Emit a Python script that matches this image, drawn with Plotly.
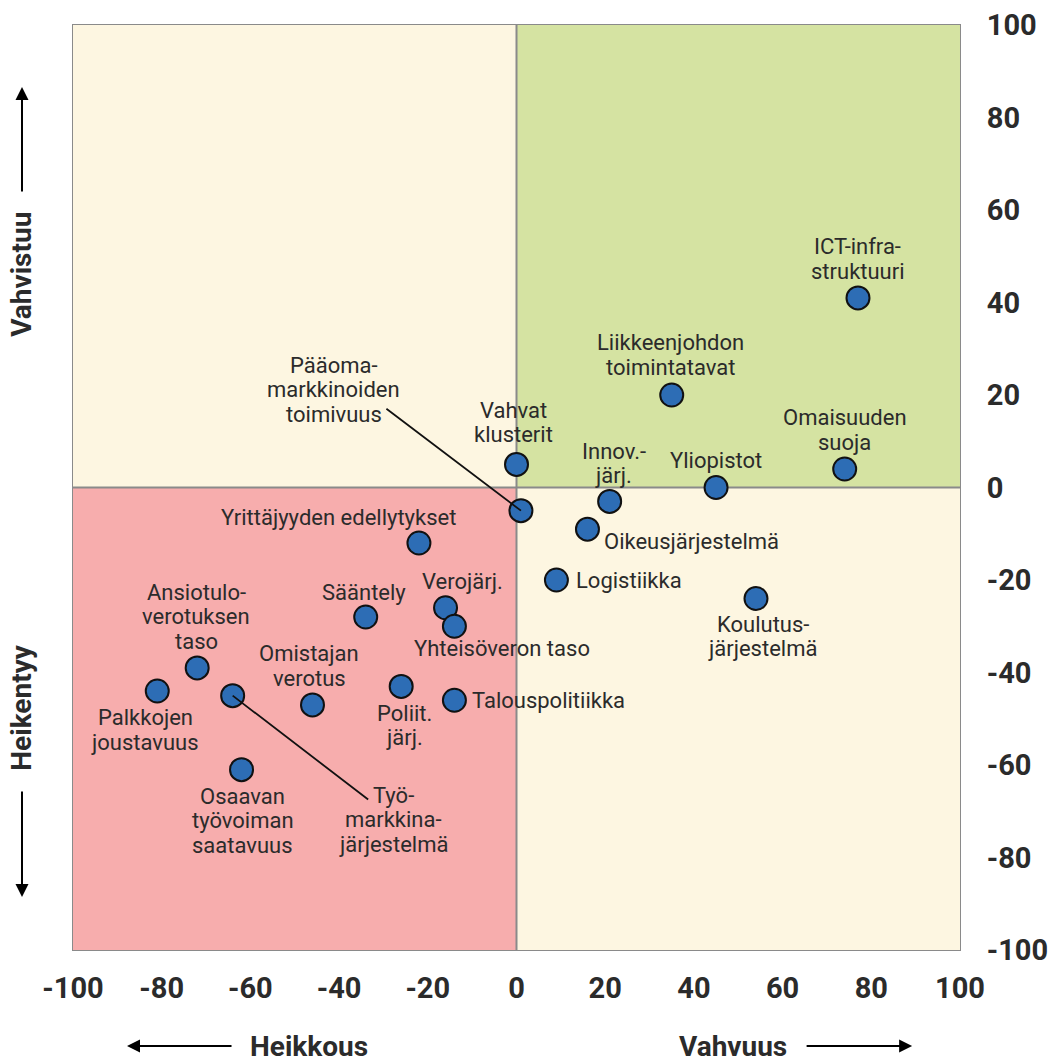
import plotly.graph_objects as go

# ---- data ----
labels = [
    "ICT-infra-<br>struktuuri", "Liikkeenjohdon<br>toimintatavat", "Omaisuuden<br>suoja",
    "Yliopistot", "Innov.-<br>järj.", "Vahvat<br>klusterit",
    "Pääoma-<br>markkinoiden<br>toimivuus", "Oikeusjärjestelmä", "Logistiikka",
    "Koulutus-<br>järjestelmä", "Yrittäjyyden edellytykset", "Sääntely",
    "Verojärj.", "Yhteisöveron taso", "Talouspolitiikka",
    "Poliit.<br>järj.", "Omistajan<br>verotus", "Ansiotulo-<br>verotuksen<br>taso",
    "Palkkojen<br>joustavuus", "Työ-<br>markkina-<br>järjestelmä", "Osaavan<br>työvoiman<br>saatavuus",
]
x_vals = [77, 35, 74, 45, 21, 0, 1, 16, 9, 54, -22, -34, -16, -14, -14, -26, -46, -72, -81, -64, -62]
y_vals = [41, 20, 4, 0, -3, 5, -5, -9, -20, -24, -12, -28, -26, -30, -46, -43, -47, -39, -44, -45, -61]

tick_vals = [-100, -80, -60, -40, -20, 0, 20, 40, 60, 80, 100]
tick_text = [str(v) for v in tick_vals]

x_title_left, x_title_right = "Heikkous", "Vahvuus"
y_title_up, y_title_down = "Vahvistuu", "Heikentyy"

# ---- label placement (style): xanchor, block-center shift dx, dy (px, up positive),
#      optional leader line tail offset (ax, ay) in px
placement = [
    ("center", 0, 39, None),
    ("center", -1, 40, None),
    ("center", 0, 39, None),
    ("center", 0, 27, None),
    ("center", 4, 38, None),
    ("center", -3, 42, None),
    ("center", -187, 121, (-136, -103)),
    ("left", 15, -12, None),
    ("left", 18, 0, None),
    ("center", 7, -38, None),
    ("center", -80, 26, None),
    ("center", -2, 25, None),
    ("center", 17, 26, None),
    ("center", 48, -22, None),
    ("left", 16, 0, None),
    ("center", 3, -39, None),
    ("center", -3, 39, None),
    ("center", -1, 51, None),
    ("center", -12, -39, None),
    ("center", 161, -124, (137, 105)),
    ("center", 1, -51, None),
]
LINE_H = 24.5

CREAM = "#FDF6E1"
GREEN = "#D5E3A2"
PINK = "#F7ADAD"
MARKER = "#2D6DB5"
TEXT = "#2B2B2B"
LABEL_FONT = dict(family="Roboto, Liberation Sans, sans-serif", size=22, color=TEXT)
BOLD_FONT = dict(family="Roboto, Liberation Sans, sans-serif", size=28, color=TEXT, weight="bold")
TICK_FONT = dict(family="Roboto, Liberation Sans, sans-serif", size=29, color=TEXT, weight="bold")

fig = go.Figure()

fig.add_trace(go.Scatter(
    x=x_vals, y=y_vals, mode="markers",
    marker=dict(size=23, color=MARKER, line=dict(color="#111111", width=2)),
    hoverinfo="text", text=[l.replace("<br>", " ") for l in labels],
    showlegend=False, cliponaxis=False,
))

xr = [tick_vals[0], tick_vals[-1]]
yr = [tick_vals[0], tick_vals[-1]]
quads = [
    (xr[0], 0, 0, yr[1], CREAM),
    (0, xr[1], 0, yr[1], GREEN),
    (xr[0], 0, yr[0], 0, PINK),
    (0, xr[1], yr[0], 0, CREAM),
]
for x0, x1, y0, y1, c in quads:
    fig.add_shape(type="rect", xref="x", yref="y", x0=x0, x1=x1, y0=y0, y1=y1,
                  fillcolor=c, line=dict(width=0), layer="below")
fig.add_shape(type="line", xref="x", yref="y", x0=0, x1=0, y0=yr[0], y1=yr[1],
              line=dict(color="#8A8A8A", width=2), layer="below")
fig.add_shape(type="line", xref="x", yref="y", x0=xr[0], x1=xr[1], y0=0, y1=0,
              line=dict(color="#8A8A8A", width=2), layer="below")
fig.add_shape(type="rect", xref="paper", yref="paper", x0=0, x1=1, y0=0, y1=1,
              line=dict(color="#8A8A8A", width=2), layer="below")

for lab, xv, yv, pl in zip(labels, x_vals, y_vals, placement):
    xa, dx, dy, leader = pl
    if leader is not None:
        fig.add_annotation(x=xv, y=yv, text="", showarrow=True, arrowhead=0,
                           arrowwidth=1.8, arrowcolor="#111111",
                           ax=leader[0], ay=leader[1], standoff=0)
    lines = lab.split("<br>")
    n = len(lines)
    for i, ln in enumerate(lines):
        ys = dy + ((n - 1) / 2 - i) * LINE_H
        fig.add_annotation(x=xv, y=yv, text=ln, showarrow=False, xanchor=xa,
                           yanchor="middle", xshift=dx, yshift=ys,
                           font=LABEL_FONT, align="center")

# axis titles with arrows (paper coords)
title_style = dict(xref="paper", yref="paper", showarrow=False, font=BOLD_FONT,
                   xanchor="center", yanchor="middle")
fig.add_annotation(x=-0.0575, y=0.731, text=y_title_up, textangle=-90, **title_style)
fig.add_annotation(x=-0.0575, y=0.262, text=y_title_down, textangle=-90, **title_style)
fig.add_annotation(x=0.266, y=-0.1048, text=x_title_left, **title_style)
fig.add_annotation(x=0.744, y=-0.1048, text=x_title_right, **title_style)

arrow_style = dict(showarrow=True, arrowhead=2, arrowsize=1.3, arrowwidth=2,
                   arrowcolor="#000000", text="", xref="paper", yref="paper",
                   axref="pixel", ayref="pixel")
fig.add_annotation(x=-0.0575, y=0.933, ax=0, ay=106, **arrow_style)
fig.add_annotation(x=-0.0575, y=0.0573, ax=0, ay=-107, **arrow_style)
fig.add_annotation(x=0.0609, y=-0.1038, ax=106, ay=0, **arrow_style)
fig.add_annotation(x=0.946, y=-0.1038, ax=-107, ay=0, **arrow_style)

fig.update_xaxes(range=xr, tickvals=tick_vals, ticktext=tick_text, showgrid=False,
                 zeroline=False, showline=False, ticks="outside", ticklen=12,
                 tickcolor="rgba(0,0,0,0)", tickfont=TICK_FONT, fixedrange=True,
                 automargin=False)
fig.update_yaxes(range=yr, tickvals=tick_vals, ticktext=tick_text, showgrid=False,
                 zeroline=False, showline=False, side="right", ticks="outside",
                 ticklen=20, tickcolor="rgba(0,0,0,0)", tickfont=TICK_FONT,
                 fixedrange=True, automargin=False)

# page body has an 8px default margin, so the figure is offset by 8px
fig.update_layout(
    width=1049, height=1051,
    margin=dict(l=65, r=97, t=17, b=109, autoexpand=False),
    plot_bgcolor="white", paper_bgcolor="white",
    font=LABEL_FONT,
)

fig.write_html("out.html")
